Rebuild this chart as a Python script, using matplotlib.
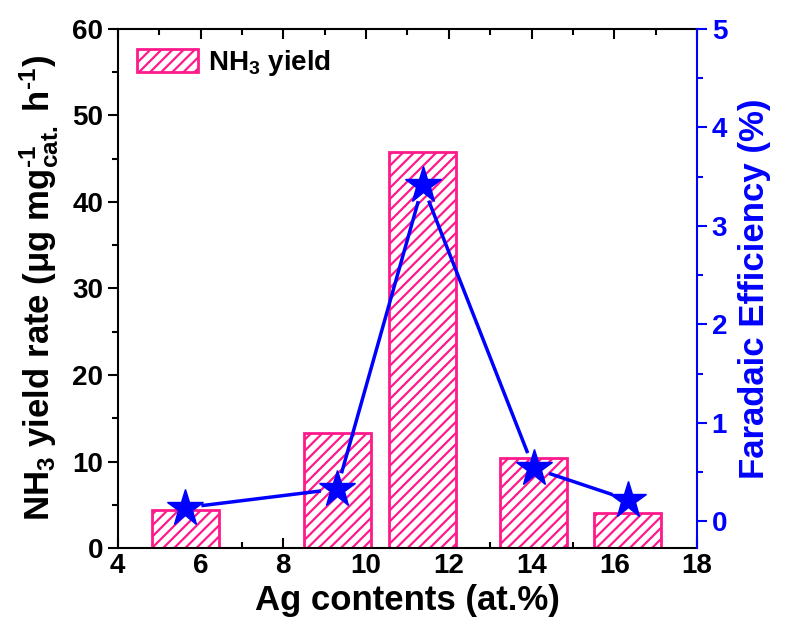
import numpy as np
import matplotlib
matplotlib.use("Agg")
import matplotlib.pyplot as plt
from matplotlib.ticker import MultipleLocator

plt.rcParams['font.family'] = ['Liberation Sans', 'DejaVu Sans']
plt.rcParams['font.weight'] = 'bold'
plt.rcParams['mathtext.fontset'] = 'custom'
plt.rcParams['mathtext.rm'] = 'Liberation Sans:bold'
plt.rcParams['mathtext.it'] = 'Liberation Sans:bold'
plt.rcParams['mathtext.bf'] = 'Liberation Sans:bold'
plt.rcParams['mathtext.default'] = 'rm'
plt.rcParams['hatch.linewidth'] = 1.6
plt.rcParams['hatch.color'] = '#ff1a8c'

# data
ag = [5.63, 9.3, 11.37, 14.05, 16.33]
yield_rate = [4.4, 13.3, 45.8, 10.4, 4.0]
fe = [0.14, 0.33, 3.41, 0.54, 0.22]

pink = '#ff1a8c'
blue = '#0000ff'

fig = plt.figure(figsize=(7.85, 6.41), dpi=100)
ax = fig.add_axes([0.150, 0.145, 0.738, 0.810])
ax.bar(ag, yield_rate, width=1.62, facecolor='white', edgecolor=pink,
       linewidth=2, hatch='///', label='NH$_3$ yield', zorder=2)
ax.set_xlim(4, 18)
ax.set_ylim(0, 60)
ax.xaxis.set_major_locator(MultipleLocator(2))
ax.xaxis.set_minor_locator(MultipleLocator(1))
ax.yaxis.set_major_locator(MultipleLocator(10))
ax.yaxis.set_minor_locator(MultipleLocator(5))
ax.tick_params(axis='both', which='major', direction='out', length=7, width=1.5,
               labelsize=20)
ax.tick_params(axis='both', which='minor', direction='out', length=4, width=1.5)
ax.tick_params(axis='x', which='both', top=True, direction='in')
ax.tick_params(axis='x', which='both', bottom=True)
for s in ['left', 'bottom', 'top']:
    ax.spines[s].set_linewidth(1.5)
ax.spines['right'].set_visible(False)
ax.set_xlabel('Ag contents (at.%)', fontsize=25, fontweight='bold', labelpad=4)
ax.set_ylabel(r'NH$_3$ yield rate ($\mu$g mg$^{\text{-}1}_{cat.}$ h$^{\text{-}1}$)',
              fontsize=25, fontweight='bold', labelpad=8)
ax.legend(loc='upper left', frameon=False, fontsize=20, handlelength=2.2,
          handleheight=0.9, borderaxespad=0.3, handletextpad=0.35)

ax2 = ax.twinx()
ax2.set_ylim(-0.27, 5)
ax2.yaxis.set_major_locator(MultipleLocator(1))
ax2.yaxis.set_minor_locator(MultipleLocator(0.5))
ax2.tick_params(axis='y', which='major', direction='out', length=7, width=1.5,
                labelsize=20, colors=blue)
ax2.tick_params(axis='y', which='minor', direction='out', length=4, width=1.5,
                colors=blue)
for s in ['left', 'bottom', 'top']:
    ax2.spines[s].set_visible(False)
ax2.spines['right'].set_color(blue)
ax2.spines['right'].set_linewidth(1.5)
ax2.set_ylabel('Faradaic Efficiency (%)', fontsize=25, fontweight='bold',
               color=blue, labelpad=8)

# connecting segments with small gaps around the stars
pts = ax2.transData.transform(np.column_stack([ag, fe]))
gap = 18
inv = ax2.transData.inverted()
for i in range(len(pts) - 1):
    p0, p1 = pts[i], pts[i + 1]
    d = p1 - p0
    u = d / np.hypot(*d)
    seg = inv.transform(np.array([p0 + u * gap, p1 - u * gap]))
    ax2.plot(seg[:, 0], seg[:, 1], color=blue, linewidth=2.5, zorder=3)
ax2.plot(ag, fe, linestyle='none', marker='*', markersize=28, color=blue, zorder=4)

fig.savefig('out.png', dpi=100)
